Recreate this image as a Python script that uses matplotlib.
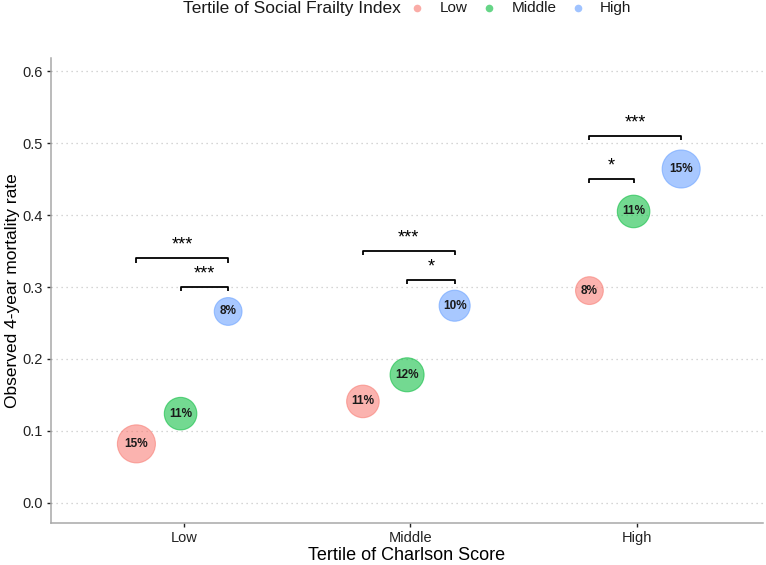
import matplotlib.pyplot as plt
import numpy as np
from matplotlib.lines import Line2D

plt.rcParams['font.family'] = ['Liberation Sans', 'DejaVu Sans']

# data
charlson = ['Low', 'Middle', 'High']
frailty = ['Low', 'Middle', 'High']
colors = ['#F8766D', '#00BA38', '#619CFF']

# mortality rate per frailty tertile (rows) within each charlson tertile (cols)
rate_low = [0.082, 0.141, 0.295]
rate_mid = [0.124, 0.178, 0.405]
rate_high = [0.266, 0.274, 0.464]
rates = [rate_low, rate_mid, rate_high]

# share of patients (bubble size + label)
pct_low = [15, 11, 8]
pct_mid = [11, 12, 11]
pct_high = [8, 10, 15]
pcts = [pct_low, pct_mid, pct_high]

# significance brackets: (charlson index, from group, to group, y, label)
brackets = [
    (0, 0, 2, 0.34, '***'), (0, 1, 2, 0.30, '***'),
    (1, 0, 2, 0.35, '***'), (1, 1, 2, 0.31, '*'),
    (2, 0, 2, 0.51, '***'), (2, 0, 1, 0.45, '*'),
]

dodge = [-0.21, -0.015, 0.195]

fig = plt.figure(figsize=(7.66, 5.65), dpi=100)
ax = fig.add_axes([0.0666, 0.0743, 0.9294, 0.8227])

xc = np.arange(1, len(charlson) + 1)
for g in range(3):
    xs = xc + dodge[g]
    ax.scatter(xs, rates[g], s=np.array(pcts[g]) * 50, color=colors[g],
               alpha=0.55, edgecolors=colors[g], linewidths=0.8, zorder=3)
    for x, y, p in zip(xs, rates[g], pcts[g]):
        ax.text(x, y, f'{p}%', ha='center', va='center', fontsize=8.5,
                fontweight='bold', color='#1a1a1a', zorder=4)

tick = 0.006
for ci, a, b, y, lab in brackets:
    x1 = xc[ci] + dodge[a]
    x2 = xc[ci] + dodge[b]
    ax.plot([x1, x1, x2, x2], [y - tick, y, y, y - tick], color='black', lw=1.3,
            solid_capstyle='butt', zorder=3)
    ax.text((x1 + x2) / 2, y + 0.006, lab, ha='center', va='bottom', fontsize=13)

ax.set_xlim(0.413, 3.556)
ax.set_ylim(-0.028, 0.618)
ax.set_xticks(xc)
ax.set_xticklabels(charlson)
ax.set_yticks(np.arange(0, 0.61, 0.1))
ax.set_yticklabels([f'{v:.1f}' for v in np.arange(0, 0.61, 0.1)])
ax.yaxis.grid(True, linestyle=(0, (1, 3)), color='#C8C8C8', lw=0.9)
ax.set_axisbelow(True)

for s in ['top', 'right']:
    ax.spines[s].set_visible(False)
for s in ['left', 'bottom']:
    ax.spines[s].set_color('#A8A8A8')
    ax.spines[s].set_linewidth(1.1)
ax.tick_params(length=3, width=1, color='#222222', labelsize=10.5, labelcolor='#222222', pad=3)

ax.set_xlabel('Tertile of Charlson Score', fontsize=13, labelpad=1)
ax.set_ylabel('Observed 4-year mortality rate', fontsize=12.5, labelpad=1.5)

# legend on top, drawn by hand so the title sits left of the keys
W, H = 766.0, 565.0
ly = 1 - 8 / H
fig.text(183 / W, ly, 'Tertile of Social Frailty Index', fontsize=12.5,
         ha='left', va='center', color='#1a1a1a')
key_x = [417, 489, 578]
lab_x = [440, 512, 600]
for c, name, kx, tx in zip(colors, frailty, key_x, lab_x):
    fig.add_artist(Line2D([kx / W], [ly], marker='o', ls='', color=c, alpha=0.6,
                          markersize=5.5, markeredgewidth=0, transform=fig.transFigure))
    fig.text(tx / W, ly, name, fontsize=11, ha='left', va='center', color='#1a1a1a')

fig.savefig('out.png', dpi=100)
